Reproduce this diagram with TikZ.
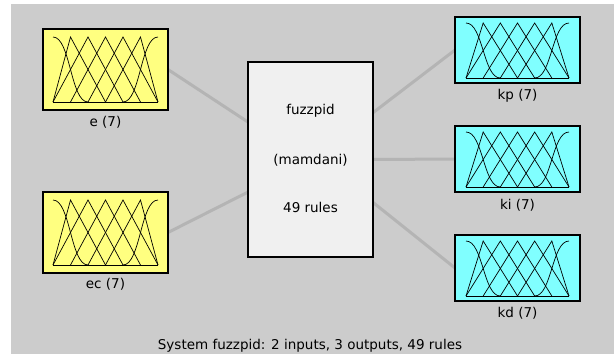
\documentclass[tikz,border=0pt]{standalone}
\usepackage{fontspec}
\setmainfont{DejaVu Sans}
\usetikzlibrary{calc}
\definecolor{bgray}{HTML}{CCCCCC}
\definecolor{lgray}{HTML}{B4B4B4}
\definecolor{inyel}{HTML}{FFFF80}
\definecolor{outcyan}{HTML}{80FFFF}
\definecolor{sysbox}{HTML}{F0F0F0}
\tikzset{
  varbox/.style={draw=black, line width=1.6pt, minimum width=125pt, inner sep=0pt, outer sep=0pt},
  inbox/.style={varbox, fill=inyel, minimum height=81pt},
  outbox/.style={varbox, fill=outcyan, minimum height=66pt},
  sysnode/.style={varbox, fill=sysbox, minimum height=195pt},
  lbl/.style={font=\fontsize{13.5}{15}\selectfont, inner sep=0pt},
  conn/.style={draw=lgray, line width=3pt},
  mf/.style={draw=black, line width=0.7pt}
}
\newcommand\mfplot[4]{%
  \pgfmathsetmacro\mfw{(#3-#1)/6}%
  \pgfmathsetmacro\mfh{(#4-#2)}%
  \pgfmathsetmacro\mfcx{(#1+#3)/2}%
  \begin{scope}[shift={(\mfcx,#4)}, x={(\mfw pt,0pt)}, y={(0pt,\mfh pt)}]
    \draw[mf] (-3,0) -- (3,0);
    \draw[mf] (-3,1) .. controls (-2,1) and (-2,0) .. (-1,0);
    \draw[mf] (-3,0) -- (-2,1) -- (0,0);
    \draw[mf] (-3,0) -- (-1,1) -- (1,0);
    \draw[mf] (-2,0) -- (0,1) -- (2,0);
    \draw[mf] (-1,0) -- (1,1) -- (3,0);
    \draw[mf] (0,0) -- (2,1) -- (3,0);
    \draw[mf] (1,0) .. controls (2,0) and (2,1) .. (3,1);
  \end{scope}}
\begin{document}
\begin{tikzpicture}[x=1pt, y=-1pt]
\useasboundingbox (0,0) rectangle (615,354);
\fill[white] (0,0) rectangle (615,354);
\fill[bgray] (11,4) rectangle (614,354);

% boxes (positions)
\node[inbox] (e) at (105.5,69.5) {};
\node[inbox] (ec) at (105.5,232.5) {};
\node[sysnode] (sys) at (310.5,159.5) {};
\node[outbox] (kp) at (517.5,50) {};
\node[outbox] (ki) at (517.5,159) {};
\node[outbox] (kd) at (517.5,268) {};

% connector attachment points on the system box
\coordinate (sl1) at ($(sys.north west)!0.308!(sys.south west)$);
\coordinate (sl2) at ($(sys.north west)!0.667!(sys.south west)$);
\coordinate (sr1) at ($(sys.north east)!0.26!(sys.south east)$);
\coordinate (sr2) at ($(sys.north east)!0.5!(sys.south east)$);
\coordinate (sr3) at ($(sys.north east)!0.72!(sys.south east)$);

\draw[conn] (e.east) -- (sl1);
\draw[conn] (ec.east) -- (sl2);
\draw[conn] (sr1) -- (kp.west);
\draw[conn] (sr2) -- (ki.west);
\draw[conn] (sr3) -- (kd.west);

% redraw boxes over connectors
\node[inbox] at (e) {};
\node[inbox] at (ec) {};
\node[sysnode] at (sys) {};
\node[outbox] at (kp) {};
\node[outbox] at (ki) {};
\node[outbox] at (kd) {};

% membership functions
\mfplot{53}{37}{158}{102}
\mfplot{53}{200}{158}{265}
\mfplot{466}{23}{569}{78}
\mfplot{466}{132}{569}{187}
\mfplot{466}{241}{569}{296}

% labels
\node[lbl] (le) at (105.5,122) {e (7)};
\node[lbl] (lec) at (105.5,284) {ec (7)};
\node[lbl] (lkp) at (517.5,96) {kp (7)};
\node[lbl] (lki) at (517.5,205) {ki (7)};
\node[lbl] (lkd) at (517.5,313) {kd (7)};
\node[lbl] (t1) at (310.5,111) {fuzzpid};
\node[lbl] (t2) at (310.5,160) {(mamdani)};
\node[lbl] (t3) at (310.5,207) {49 rules};
\node[lbl] (sum) at (310,346) {System fuzzpid: 2 inputs, 3 outputs, 49 rules};
\end{tikzpicture}
\end{document}
